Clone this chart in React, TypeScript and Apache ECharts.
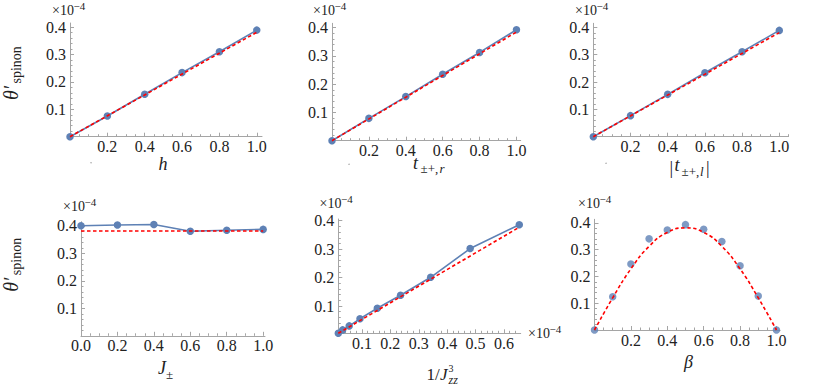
import React, { useEffect, useRef } from 'react';
import * as echarts from 'echarts';

// ---------- data ----------
const unitX = [0, 0.2, 0.4, 0.6, 0.8, 1.0];
const fitEndX = [0, 1.0];

const hSpinon = [0, 0.0755, 0.155, 0.234, 0.31, 0.389];
const hFit = [0, 0.381];

const tRSpinon = [0, 0.079, 0.156, 0.235, 0.312, 0.392];
const tRFit = [0, 0.384];

const tLSpinon = [0, 0.077, 0.155, 0.234, 0.311, 0.389];
const tLFit = [0, 0.381];

const jpmSpinon = [0.4, 0.403, 0.405, 0.38, 0.384, 0.387];
const jpmFit = [0.381, 0.381];

const invJzz3 = [0.0167, 0.032, 0.055, 0.093, 0.154, 0.236, 0.342, 0.481, 0.654];
const jzzSpinon = [0.004, 0.016, 0.03, 0.055, 0.092, 0.138, 0.201, 0.302, 0.386];
const jzzFitX = [0.0167, 0.654];
const jzzFit = [0.004, 0.377];

const betaX = [0, 0.1, 0.2, 0.3, 0.4, 0.5, 0.6, 0.7, 0.8, 0.9, 1.0];
const betaSpinon = [0, 0.124, 0.246, 0.34, 0.373, 0.393, 0.376, 0.33, 0.24, 0.127, 0];
const betaFit = [0, 0.12, 0.228, 0.312, 0.364, 0.381, 0.364, 0.312, 0.228, 0.12, 0];

const unitTickLabels = [0.2, 0.4, 0.6, 0.8, 1.0];
const jpmTickLabels = [0, 0.2, 0.4, 0.6, 0.8, 1.0];
const jzzTickLabels = [0.1, 0.2, 0.3, 0.4, 0.5, 0.6];
const yTickLabels = [0.1, 0.2, 0.3, 0.4];

// ---------- styles ----------
const AXIS_COLOR = '#a5a5a5';
const LABEL_COLOR = '#222222';
const SERIF = 'Liberation Serif';
const BLUE = '#5e81b5';
const RED = '#ff0000';

function ticksIn(lo: number, hi: number, step: number): number[] {
  const out: number[] = [];
  for (let k = Math.ceil(lo / step - 1e-9); k * step <= hi + 1e-9; k++) {
    out.push(+(k * step).toFixed(4));
  }
  return out;
}
function minorTicks(lo: number, hi: number, step: number, major: number): number[] {
  return ticksIn(lo, hi, step).filter(
    (v) => v > lo + 1e-9 && Math.abs(v / major - Math.round(v / major)) > 1e-6
  );
}

type Panel = {
  left: number; top: number; width: number; height: number;
  xMin: number; xMax: number; yMin: number; yMax: number;
  xLabels: number[]; xMajorStep: number; xMinorStep: number;
};

const panels: Panel[] = [
  { left: 70, top: 23, width: 192, height: 113.7, xMin: 0, xMax: 1.028, yMin: 0, yMax: 0.415, xLabels: unitTickLabels, xMajorStep: 0.2, xMinorStep: 0.05 },
  { left: 332, top: 23.3, width: 188.7, height: 117.4, xMin: 0, xMax: 1.023, yMin: 0, yMax: 0.415, xLabels: unitTickLabels, xMajorStep: 0.2, xMinorStep: 0.05 },
  { left: 593.3, top: 23.3, width: 195.3, height: 113.4, xMin: 0, xMax: 1.05, yMin: 0, yMax: 0.415, xLabels: unitTickLabels, xMajorStep: 0.2, xMinorStep: 0.05 },
  { left: 81, top: 221.7, width: 184, height: 114.1, xMin: 0, xMax: 1.01, yMin: 0, yMax: 0.415, xLabels: jpmTickLabels, xMajorStep: 0.2, xMinorStep: 0.05 },
  { left: 338.3, top: 219, width: 182.4, height: 114.3, xMin: 0.0167, xMax: 0.659, yMin: 0.004, yMax: 0.406, xLabels: jzzTickLabels, xMajorStep: 0.1, xMinorStep: 0.02 },
  { left: 594.5, top: 219.3, width: 185.6, height: 110.7, xMin: 0, xMax: 1.02, yMin: 0, yMax: 0.413, xLabels: unitTickLabels, xMajorStep: 0.2, xMinorStep: 0.05 },
];

const labelFont = { color: LABEL_COLOR, fontFamily: SERIF, fontSize: 16 };

function buildXAxes(i: number, p: Panel) {
  const base = { type: 'value', gridIndex: i, min: p.xMin, max: p.xMax, position: 'bottom', splitLine: { show: false } };
  const major = ticksIn(p.xMin, p.xMax, p.xMajorStep).filter((v) => v >= p.xMin);
  return [
    {
      ...base,
      axisLine: { show: true, onZero: false, lineStyle: { color: AXIS_COLOR, width: 1 } },
      axisTick: { show: true, inside: true, length: 4, customValues: major, lineStyle: { color: AXIS_COLOR, width: 1 } },
      axisLabel: { show: true, customValues: p.xLabels, margin: 2, formatter: (v: number) => v.toFixed(1), ...labelFont },
    },
    {
      ...base,
      axisLine: { show: false, onZero: false },
      axisTick: { show: true, inside: true, length: 2.5, customValues: minorTicks(p.xMin, p.xMax, p.xMinorStep, p.xMajorStep), lineStyle: { color: AXIS_COLOR, width: 1 } },
      axisLabel: { show: false },
    },
  ];
}

function buildYAxes(i: number, p: Panel) {
  const base = { type: 'value', gridIndex: i, min: p.yMin, max: p.yMax, position: 'left', splitLine: { show: false } };
  return [
    {
      ...base,
      axisLine: { show: true, onZero: false, lineStyle: { color: AXIS_COLOR, width: 1 } },
      axisTick: { show: true, inside: true, length: 4, customValues: yTickLabels, lineStyle: { color: AXIS_COLOR, width: 1 } },
      axisLabel: { show: true, customValues: yTickLabels, margin: 4, formatter: (v: number) => v.toFixed(1), ...labelFont },
    },
    {
      ...base,
      axisLine: { show: false, onZero: false },
      axisTick: { show: true, inside: true, length: 2.5, customValues: minorTicks(p.yMin, p.yMax, 0.02, 0.1), lineStyle: { color: AXIS_COLOR, width: 1 } },
      axisLabel: { show: false },
    },
  ];
}

const zip = (xs: number[], ys: number[]) => xs.map((x, k) => [x, ys[k]]);

function bluePoints(i: number, xs: number[], ys: number[], joined: boolean) {
  const common = {
    xAxisIndex: 2 * i, yAxisIndex: 2 * i, data: zip(xs, ys), symbol: 'circle', symbolSize: 7.5,
    itemStyle: { color: BLUE }, silent: true, clip: false, z: 2,
  };
  if (!joined) return { ...common, type: 'scatter' };
  return { ...common, type: 'line', showSymbol: true, lineStyle: { color: BLUE, width: 1.6 } };
}

function redFit(i: number, xs: number[], ys: number[], smooth = false) {
  return {
    type: 'line', xAxisIndex: 2 * i, yAxisIndex: 2 * i, data: zip(xs, ys), symbol: 'none', smooth,
    lineStyle: { color: RED, width: 1.6, type: [3.5, 2.5] }, silent: true, clip: false, z: 3,
  };
}

// ---------- text helpers ----------
function T(x: number, base: number, text: string, size: number, italic = false, align = 'left') {
  return {
    type: 'text', x, y: base - 0.34 * size, silent: true, z: 10,
    style: { text, fill: LABEL_COLOR, fontFamily: SERIF, fontSize: size, fontStyle: italic ? 'italic' : 'normal', align, verticalAlign: 'middle' },
  };
}
function R(baseX: number, startY: number, text: string, size: number, italic = false) {
  return {
    type: 'text', x: baseX - 0.34 * size, y: startY, rotation: Math.PI / 2, silent: true, z: 10,
    style: { text, fill: LABEL_COLOR, fontFamily: SERIF, fontSize: size, fontStyle: italic ? 'italic' : 'normal', align: 'left', verticalAlign: 'middle' },
  };
}
function times10(x: number, base: number) {
  return [T(x, base, '×10', 14), T(x + 21.5, base - 5.5, '−4', 11)];
}
function thetaLabel(startY: number) {
  return [R(17.5, startY, 'θ′', 20, true), R(21.5, startY - 16.5, 'spinon', 14)];
}
function dot(x: number, y: number) {
  return { type: 'circle', shape: { cx: x, cy: y, r: 0.6 }, style: { fill: '#888' }, silent: true };
}

export default function App() {
  const ref = useRef<HTMLDivElement>(null);
  useEffect(() => {
    if (!ref.current) return;
    const chart = echarts.init(ref.current, undefined, { renderer: 'svg' });
    const grid = panels.map((p) => ({ left: p.left, top: p.top, width: p.width, height: p.height, containLabel: false, outerBoundsMode: 'none' }));
    const xAxis: any[] = [];
    const yAxis: any[] = [];
    panels.forEach((p, i) => {
      xAxis.push(...buildXAxes(i, p));
      yAxis.push(...buildYAxes(i, p));
    });
    const series = [
      bluePoints(0, unitX, hSpinon, true), redFit(0, fitEndX, hFit),
      bluePoints(1, unitX, tRSpinon, true), redFit(1, fitEndX, tRFit),
      bluePoints(2, unitX, tLSpinon, true), redFit(2, fitEndX, tLFit),
      bluePoints(3, unitX, jpmSpinon, true), redFit(3, fitEndX, jpmFit),
      bluePoints(4, invJzz3, jzzSpinon, true), redFit(4, jzzFitX, jzzFit),
      bluePoints(5, betaX, betaSpinon, false), redFit(5, betaX, betaFit, true),
    ];
    const graphic = [
      ...thetaLabel(100),
      ...thetaLabel(291.7),
      ...times10(52, 15),
      ...times10(313, 15),
      ...times10(575, 15),
      ...times10(63, 211.7),
      ...times10(319.5, 208),
      ...times10(578, 208),
      ...times10(528, 338.3),
      // x-axis titles
      T(163, 170, 'h', 18, true, 'center'),
      T(413, 169, 't', 18, true), T(420.5, 173, '±+,', 13), T(439.5, 173, 'r', 13, true),
      T(669.5, 174, '|', 18), T(674.5, 171.5, 't', 18, true), T(681.5, 175.5, '±+,', 13), T(700, 175.5, 'l', 13, true), T(706, 174, '|', 18),
      T(158, 374.5, 'J', 18, true), T(166, 378.5, '±', 13),
      T(426.5, 380, '1/', 17), T(440, 380, 'J', 17, true), T(448.5, 372, '3', 10), T(448.5, 384, 'zz', 12, true),
      T(688.5, 368.5, 'β', 18, true, 'center'),
      dot(91, 162.7), dot(349, 164.3), dot(606, 163.3),
    ];
    chart.setOption({ animation: false, backgroundColor: '#ffffff', grid, xAxis, yAxis, series, graphic });
    return () => chart.dispose();
  }, []);
  return <div ref={ref} style={{ position: 'absolute', left: 0, top: 0, width: 830, height: 386 }} />;
}
